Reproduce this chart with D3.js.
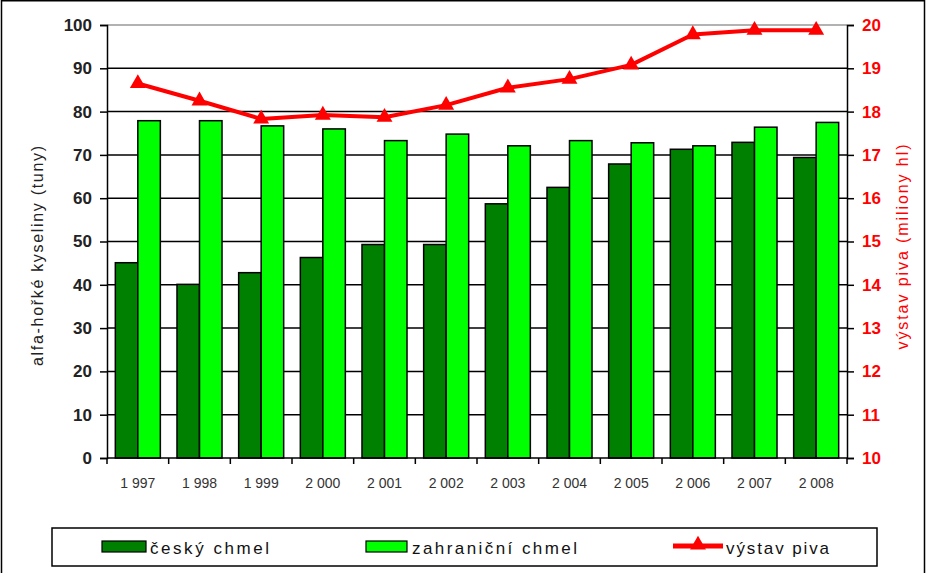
<!DOCTYPE html>
<html><head><meta charset="utf-8">
<script src="https://cdn.jsdelivr.net/npm/d3@7"></script>
<style>html,body{margin:0;padding:0;background:#fff;}svg{display:block;font-family:Arial,"Liberation Sans",sans-serif;}</style>
</head><body>
<script>
const years = ["1 997","1 998","1 999","2 000","2 001","2 002","2 003","2 004","2 005","2 006","2 007","2 008"];
const ceskyChmel = [45.1, 40.1, 42.8, 46.3, 49.3, 49.3, 58.7, 62.5, 67.9, 71.3, 72.9, 69.4];
const zahranicniChmel = [77.9, 77.9, 76.7, 76.0, 73.3, 74.8, 72.1, 73.3, 72.8, 72.1, 76.4, 77.5];
const vystavPiva = [18.65, 18.25, 17.83, 17.92, 17.87, 18.15, 18.55, 18.75, 19.08, 19.78, 19.88, 19.88];
const leftTicks = [0,10,20,30,40,50,60,70,80,90,100];
const rightTicks = [10,11,12,13,14,15,16,17,18,19,20];
const seriesNames = ["český chmel","zahraniční chmel","výstav piva"];
const leftTitle = "alfa-hořké kyseliny (tuny)";
const rightTitle = "výstav  piva (miliony hl)";

const W=927,H=573;
const L=107,R=847,T=25,B=458;
const svg=d3.select("body").append("svg").attr("width",W).attr("height",H);
svg.append("rect").attr("width",W).attr("height",H).attr("fill","#fff");

const x=d3.scaleBand().domain(years).range([L,R]).paddingInner(0.27).paddingOuter(0.135);
const xc=d3.scaleBand().domain(years).range([L,R]);
const xs=d3.scaleBand().domain([0,1]).range([0,x.bandwidth()]);
const yL=d3.scaleLinear().domain([0,100]).range([B,T]);
const yR=d3.scaleLinear().domain([10,20]).range([B,T]);

// gridlines
svg.append("g").selectAll("line").data(leftTicks.filter(d=>d>0)).join("line")
  .attr("x1",L).attr("x2",R).attr("y1",d=>yL(d)).attr("y2",d=>yL(d))
  .attr("stroke",d=>d===100?"#999":"#000").attr("stroke-width",1.5);

// bars
const g=svg.append("g");
const barsData=[];
years.forEach((yr,i)=>{barsData.push({yr,k:0,v:ceskyChmel[i]});barsData.push({yr,k:1,v:zahranicniChmel[i]});});
g.selectAll("rect").data(barsData).join("rect")
  .attr("x",d=>x(d.yr)+xs(d.k)).attr("width",xs.bandwidth())
  .attr("y",d=>yL(d.v)).attr("height",d=>B-yL(d.v))
  .attr("fill",d=>d.k===0?"#008000":"#00ff00").attr("stroke","#000").attr("stroke-width",1.5);

// left axis
const axL=svg.append("g").attr("transform",`translate(${L},0)`)
  .call(d3.axisLeft(yL).tickValues(leftTicks).tickSize(7).tickPadding(8));
axL.select(".domain").attr("stroke","#000").attr("stroke-width",1.5);
axL.selectAll(".tick line").attr("stroke","#000").attr("stroke-width",1.5);
axL.selectAll("text").attr("font-size",17).attr("font-weight","bold").attr("fill","#222").attr("font-family","Arial, Liberation Sans, sans-serif");

// right axis
const axR=svg.append("g").attr("transform",`translate(${R},0)`)
  .call(d3.axisRight(yR).tickValues(rightTicks).tickSize(7).tickPadding(8));
axR.select(".domain").attr("stroke","#000").attr("stroke-width",1.5);
axR.selectAll(".tick line").attr("stroke","#000").attr("stroke-width",1.5);
axR.selectAll("text").attr("font-size",17).attr("font-weight","bold").attr("fill","#ff0000").attr("font-family","Arial, Liberation Sans, sans-serif");

// bottom axis
svg.append("line").attr("x1",L).attr("x2",R).attr("y1",B).attr("y2",B).attr("stroke","#000").attr("stroke-width",1.5);
const bounds=years.map(d=>xc(d)).concat([R]);
svg.append("g").selectAll("line").data(bounds).join("line")
  .attr("x1",d=>d).attr("x2",d=>d).attr("y1",B).attr("y2",B+6).attr("stroke","#000").attr("stroke-width",1.5);
svg.append("g").selectAll("text").data(years).join("text")
  .attr("x",d=>xc(d)+xc.bandwidth()/2).attr("y",488).attr("text-anchor","middle")
  .attr("font-size",14).attr("fill","#333").text(d=>d);

// line
const pts=years.map((yr,i)=>[xc(yr)+xc.bandwidth()/2,yR(vystavPiva[i])]);
svg.append("path").attr("d",d3.line()(pts)).attr("fill","none").attr("stroke","#ff0000").attr("stroke-width",4).attr("stroke-linejoin","round");
const tri=d3.symbol().type(d3.symbolTriangle).size(110);
svg.append("g").selectAll("path").data(pts).join("path")
  .attr("transform",d=>`translate(${d[0]},${d[1]})`).attr("d",tri).attr("fill","#ff0000");

// axis titles
svg.append("text").attr("transform","translate(43,256) rotate(-90)").attr("text-anchor","middle")
  .attr("font-size",16).attr("fill","#222").attr("textLength",220).attr("lengthAdjust","spacing").text(leftTitle);
svg.append("text").attr("transform","translate(908,247) rotate(-90)").attr("text-anchor","middle")
  .attr("font-size",16).attr("fill","#ff0000").attr("textLength",205).attr("lengthAdjust","spacing").text(rightTitle);

// legend
const lg=svg.append("g");
lg.append("rect").attr("x",52).attr("y",528).attr("width",825).attr("height",38).attr("fill","#fff").attr("stroke","#000").attr("stroke-width",1.5);
lg.append("rect").attr("x",102).attr("y",541).attr("width",44).attr("height",11).attr("fill","#008000").attr("stroke","#000").attr("stroke-width",1.2);
lg.append("rect").attr("x",366).attr("y",541).attr("width",41).attr("height",11).attr("fill","#00ff00").attr("stroke","#000").attr("stroke-width",1.2);
lg.append("line").attr("x1",673).attr("x2",723).attr("y1",546).attr("y2",546).attr("stroke","#ff0000").attr("stroke-width",5);
lg.append("path").attr("transform","translate(698,545)").attr("d",tri).attr("fill","#ff0000");
const legTexts=[{x:150,t:seriesNames[0],w:119},{x:412,t:seriesNames[1],w:165},{x:726,t:seriesNames[2],w:103}];
lg.selectAll("text").data(legTexts).join("text").attr("x",d=>d.x).attr("y",554)
  .attr("font-size",17).attr("fill","#111").attr("textLength",d=>d.w).attr("lengthAdjust","spacing").text(d=>d.t);

// outer border
svg.append("rect").attr("x",1.5).attr("y",0.75).attr("width",923).attr("height",580).attr("fill","none").attr("stroke","#000").attr("stroke-width",1.5);
</script>
</body></html>
